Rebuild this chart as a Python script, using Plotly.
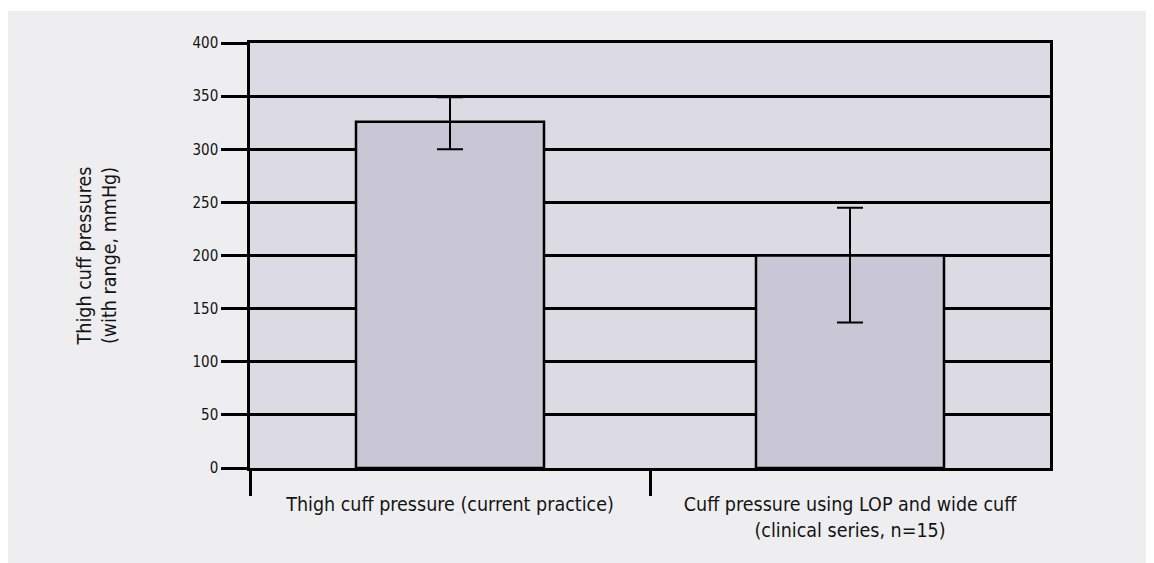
import plotly.graph_objects as go

categories = ["Thigh cuff pressure (current practice)",
              "Cuff pressure using LOP and wide cuff<br>(clinical series, n=15)"]
values = [326, 200]
err_plus = [23, 45]
err_minus = [26, 63]
y_ticks = [0, 50, 100, 150, 200, 250, 300, 350, 400]

FONT = "DejaVu Sans Condensed, Liberation Sans Narrow, sans-serif"

fig = go.Figure()
fig.add_trace(go.Bar(
    x=categories, y=values, width=0.47,
    marker=dict(color="#C9C7D5", line=dict(color="black", width=2.5)),
    error_y=dict(type="data", symmetric=False, array=err_plus, arrayminus=err_minus,
                 color="black", thickness=2, width=13),
    showlegend=False,
))
fig.add_trace(go.Scatter(x=[-0.5, 1.5], y=[0, 0], xaxis="x2", mode="markers",
                         marker=dict(opacity=0), showlegend=False, hoverinfo="skip"))

fig.update_layout(
    width=1154, height=563,
    margin=dict(l=242, r=112, t=35, b=103),
    paper_bgcolor="white",
    plot_bgcolor="rgba(0,0,0,0)",
    font=dict(family=FONT, color="#141414"),
    xaxis=dict(type="category", ticks="outside", ticklen=17, tickcolor="rgba(0,0,0,0)",
               showgrid=False, zeroline=False,
               showline=True, mirror=True, linecolor="black", linewidth=2.5,
               tickfont=dict(size=19.5, family=FONT), range=[-0.5, 1.5]),
    xaxis2=dict(overlaying="x", range=[-0.5, 1.5], tickvals=[-0.5, 0.5], showticklabels=False,
                ticks="outside", ticklen=27, tickwidth=2.5, tickcolor="black",
                showgrid=False, zeroline=False, showline=False, anchor="y", side="bottom"),
    yaxis=dict(range=[0, 400], tickvals=y_ticks, ticks="outside", ticklen=26, tickwidth=2.5,
               tickcolor="black", showgrid=True, gridcolor="black", gridwidth=2.5,
               showline=True, linecolor="black", linewidth=2.5, mirror=True,
               zeroline=False, tickfont=dict(size=15, family=FONT),
               title=dict(text="Thigh cuff pressures<br>(with range, mmHg)",
                          font=dict(size=19.5, family=FONT), standoff=71)),
    shapes=[dict(type="rect", xref="paper", yref="paper", x0=-0.30375, x1=2, y0=-2,
                 y1=(468 - 11) / 425, fillcolor="#EEEEF0", line=dict(width=0), layer="below"),
            dict(type="rect", xref="paper", yref="paper", x0=0, x1=1, y0=0, y1=1,
                 fillcolor="#DCDAE3", line=dict(width=0), layer="below")],
)

fig.write_html("out.html")
